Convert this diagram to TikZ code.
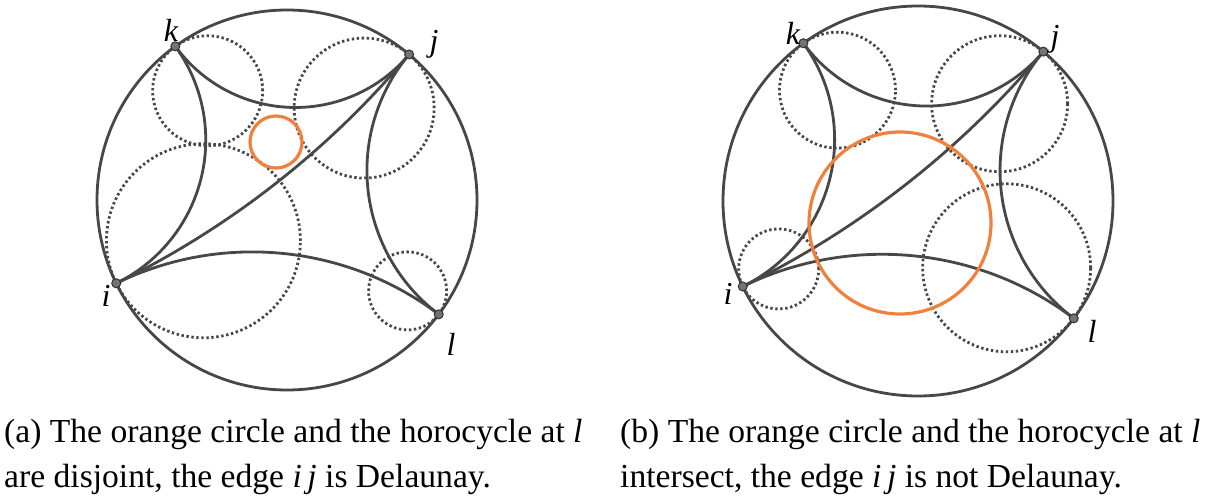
\documentclass[tikz,border=0pt]{standalone}
\usepackage{fontspec}
\setmainfont{Liberation Serif}
\begin{document}
\begin{tikzpicture}[x=1pt,y=1pt,
  bnd/.style={draw=black!72,line width=2.8pt},
  geo/.style={draw=black!72,line width=2.8pt},
  horo/.style={draw=black!72,line width=2.8pt,dash pattern=on 2.4pt off 2.6pt},
  orng/.style={draw={rgb,255:red,240;green,128;blue,60},line width=3.2pt},
  vtx/.style={circle,fill=black!55,draw=black!80,line width=1pt,inner sep=0pt,minimum size=9pt},
  lab/.style={font=\fontsize{32}{32}\selectfont\itshape},
  captxt/.style={font=\fontsize{33.6}{45}\selectfont,align=left,anchor=north west,inner sep=0pt}]
\useasboundingbox (0,0) rectangle (1211,499);
\newcommand\mygeo[2]{%
  \pgfmathsetmacro\gm{(#1+#2)/2}\pgfmathsetmacro\gd{(#2-#1)/2}%
  \draw[geo] ({\Ox+\R*cos(#1)},{\Oy+\R*sin(#1)}) arc[start angle={\gm+270-\gd},end angle={\gm+90+\gd},radius={\R*tan(\gd)}];}
\newcommand\myhoro[2]{%
  \draw[horo] ({\Ox+(\R-#2)*cos(#1)},{\Oy+(\R-#2)*sin(#1)}) circle[radius=#2];}
% ---------- left ----------
\def\Ox{287}\def\Oy{299}\def\R{190}
\draw[bnd] (\Ox,\Oy) circle[radius=\R];
\myhoro{126}{55}\myhoro{50}{70}\myhoro{206}{97}\myhoro{323}{39}
\mygeo{50}{126}\mygeo{126}{206}\mygeo{206}{323}\mygeo{323}{410}\mygeo{50}{206}
\draw[orng] (276,357) circle[radius=26];
\node[vtx] (k1) at ({\Ox+\R*cos(126)},{\Oy+\R*sin(126)}) {};
\node[vtx] (j1) at ({\Ox+\R*cos(50)},{\Oy+\R*sin(50)}) {};
\node[vtx] (i1) at ({\Ox+\R*cos(206)},{\Oy+\R*sin(206)}) {};
\node[vtx] (l1) at ({\Ox+\R*cos(323)},{\Oy+\R*sin(323)}) {};
\node[lab] (tk1) at (171,469) {k};
\node[lab] (tj1) at (434,455) {j};
\node[lab] (ti1) at (106,203) {i};
\node[lab] (tl1) at (451,155) {l};
% ---------- right ----------
\def\Ox{918}\def\Oy{298}\def\R{195}
\draw[bnd] (\Ox,\Oy) circle[radius=\R];
\myhoro{126}{58}\myhoro{50}{68}\myhoro{206}{40}\myhoro{323}{84}
\mygeo{50}{126}\mygeo{126}{206}\mygeo{206}{323}\mygeo{323}{410}\mygeo{50}{206}
\draw[orng] (900,276) circle[radius=91];
\node[vtx] (k2) at ({\Ox+\R*cos(126)},{\Oy+\R*sin(126)}) {};
\node[vtx] (j2) at ({\Ox+\R*cos(50)},{\Oy+\R*sin(50)}) {};
\node[vtx] (i2) at ({\Ox+\R*cos(206)},{\Oy+\R*sin(206)}) {};
\node[vtx] (l2) at ({\Ox+\R*cos(323)},{\Oy+\R*sin(323)}) {};
\node[lab] (tk2) at (793,466) {k};
\node[lab] (tj2) at (1055,460) {j};
\node[lab] (ti2) at (728,205) {i};
\node[lab] (tl2) at (1092,168) {l};
% ---------- captions ----------
\node[captxt] (ca) at (4,80) {(a) The orange circle and the horocycle at \textit{l}\\are disjoint, the edge \textit{i\,j} is Delaunay.};
\node[captxt] (cb) at (620,80) {(b) The orange circle and the horocycle at \textit{l}\\intersect, the edge \textit{i\,j} is not Delaunay.};
\end{tikzpicture}
\end{document}
